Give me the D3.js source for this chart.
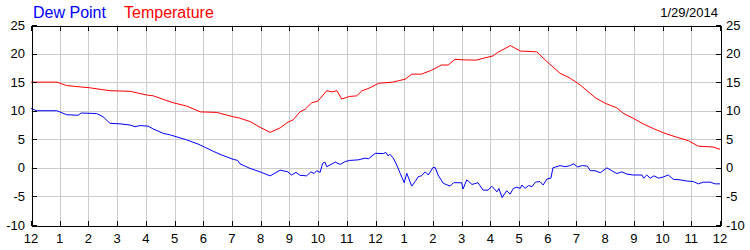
<!DOCTYPE html>
<html>
<head>
<meta charset="utf-8">
<script src="https://cdn.jsdelivr.net/npm/d3@7"></script>
<style>
  body { margin: 0; background: #fff; }
  svg { display: block; font-family: "Liberation Sans", Arial, sans-serif; }
</style>
</head>
<body>
<div id="container"></div>
<script>
let w = 750;
let h = 250;
let plotLeft = 31, plotRight = 720, plotTop = 25, plotBottom = 225;

// hour labels along the bottom (midnight to midnight)
let hourLabels = ["12", "1", "2", "3", "4", "5", "6", "7", "8", "9", "10", "11",
  "12", "1", "2", "3", "4", "5", "6", "7", "8", "9", "10", "11", "12"];
let yTicks = [-10, -5, 0, 5, 10, 15, 20, 25];

// temperature, hours since midnight / degrees
let tempHours = [0, 0.9, 1.24, 2.06, 2.75, 3.45, 4.03, 4.26, 4.6, 4.95, 5.43, 5.9, 6.47, 7.04, 7.27,
  7.63, 7.98, 8.33, 8.68, 8.95, 9.13, 9.37, 9.55, 9.78, 10.0, 10.3, 10.48, 10.66, 10.82, 11.1, 11.35,
  11.52, 11.8, 12.1, 12.6, 12.8, 13.03, 13.26, 13.6, 13.96, 14.3, 14.53, 14.77, 15.05, 15.5, 15.75,
  16.1, 16.24, 16.7, 17.04, 17.62, 17.97, 18.43, 18.78, 19.13, 19.65, 20.0, 20.41, 20.63, 20.98,
  21.32, 21.67, 22.02, 22.44, 22.9, 23.24, 23.76, 24];
let tempValues = [15.0, 15.0, 14.4, 14.0, 13.5, 13.4, 12.75, 12.6, 12.0, 11.4, 10.8, 9.8, 9.7, 8.95, 8.7,
  8.1, 7.1, 6.2, 7.0, 8.0, 8.4, 9.8, 10.25, 11.4, 11.7, 13.5, 13.3, 13.5, 12.05, 12.5, 12.6,
  13.45, 14.0, 14.8, 15.0, 15.25, 15.5, 16.4, 16.4, 17.1, 18.0, 18.0, 19.0, 18.9, 18.85, 19.17,
  19.6, 20.15, 21.4, 20.45, 20.3, 18.6, 16.55, 15.7, 14.5, 12.3, 11.3, 10.5, 9.55, 8.67,
  7.7, 6.9, 6.15, 5.45, 4.75, 3.8, 3.65, 3.25];

// dew point, hours since midnight / degrees
let dewHours = [0, 0.2, 0.9, 1.24, 1.64, 1.75, 2.29, 2.51, 2.75, 3.1, 3.45, 3.62, 3.8, 4.08, 4.26, 4.6,
  4.86, 5.42, 5.85, 6.35, 6.62, 7.04, 7.2, 7.28, 7.63, 7.98, 8.33, 8.68, 8.95, 9.07, 9.23, 9.37, 9.6,
  9.75, 9.86, 9.95, 10.07, 10.16, 10.24, 10.3, 10.6, 10.77, 10.94, 11.1, 11.4, 11.64, 11.76, 11.99,
  12.27, 12.36, 12.44, 12.5, 12.62, 12.74, 12.86, 13.0, 13.09, 13.26, 13.38, 13.49, 13.6, 13.73,
  13.84, 14.0, 14.08, 14.18, 14.36, 14.6, 14.72, 15.0, 15.05, 15.18, 15.36, 15.57, 15.75, 15.92,
  16.05, 16.23, 16.3, 16.41, 16.57, 16.69, 16.8, 16.92, 17.04, 17.1, 17.21, 17.33, 17.45, 17.57,
  17.73, 17.84, 17.97, 18.11, 18.18, 18.43, 18.6, 18.75, 18.9, 19.04, 19.2, 19.38, 19.48, 19.65,
  19.83, 20.06, 20.23, 20.41, 20.58, 20.76, 20.98, 21.28, 21.34, 21.45, 21.57, 21.7, 21.86, 22.02,
  22.2, 22.37, 22.61, 22.84, 23.07, 23.25, 23.42, 23.66, 23.83, 24];
let dewValues = [10.4, 10.0, 10.0, 9.3, 9.2, 9.6, 9.5, 8.95, 7.8, 7.7, 7.5, 7.2, 7.4, 7.3, 6.8, 6.05,
  5.75, 4.9, 4.1, 2.9, 2.3, 1.5, 1.3, 0.7, -0.1, -0.7, -1.4, -0.4, -0.7, -1.25, -0.8, -1.3, -1.4,
  -0.7, -1.0, -0.5, -0.8, 0.8, 1.0, 0.2, 1.0, 0.6, 1.1, 1.3, 1.4, 1.7, 1.6, 2.55,
  2.5, 2.7, 2.1, 2.4, 1.7, 0.5, -0.95, -2.6, -0.95, -3.2, -2.4, -1.55, -1.4, -0.7,
  -1.25, 0.05, 0.05, -1.25, -2.7, -3.2, -2.6, -2.6, -3.7, -2.1, -2.9, -2.6, -3.9, -3.9,
  -3.2, -4.2, -3.6, -5.2, -4.0, -4.6, -3.6, -3.4, -3.6, -3.0, -3.6, -3.1, -3.3, -2.5,
  -2.4, -3.0, -1.95, -1.8, 0.0, 0.4, 0.2, 0.35, 0.7, 0.15, 0.4, 0.3, -0.5, -0.5,
  -0.85, 0.0, -0.5, -1.0, -0.7, -1.1, -1.25, -1.25, -1.8, -1.25, -1.8, -1.4, -1.8, -1.6,
  -1.25, -2.0, -2.1, -2.3, -2.4, -2.8, -2.5, -2.5, -2.8, -2.8];

let x = d3.scaleLinear().domain([0, 24]).range([plotLeft, plotRight]);
let y = d3.scaleLinear().domain([-10, 25]).range([plotBottom, plotTop]);

let viz = d3.select("#container")
  .append("svg")
  .attr("width", w)
  .attr("height", h)
  .style("background-color", "white");

// grid
let hourTicks = d3.range(0, 25);
viz.append("g")
  .selectAll("line")
  .data(hourTicks.slice(1, -1))
  .enter()
  .append("line")
  .attr("x1", d => Math.round(x(d)) + 0.5).attr("x2", d => Math.round(x(d)) + 0.5)
  .attr("y1", plotTop).attr("y2", plotBottom)
  .attr("stroke", "#cccccc");
viz.append("g")
  .selectAll("line")
  .data(yTicks.slice(1, -1))
  .enter()
  .append("line")
  .attr("x1", plotLeft).attr("x2", plotRight)
  .attr("y1", d => Math.round(y(d)) + 0.5).attr("y2", d => Math.round(y(d)) + 0.5)
  .attr("stroke", "#cccccc");

// lines
let line = d3.line().x(d => x(d[0])).y(d => y(d[1]));
viz.append("path")
  .datum(dewHours.map((t, i) => [t, dewValues[i]]))
  .attr("d", line)
  .attr("fill", "none")
  .attr("stroke", "#0000ff")
  .attr("stroke-width", 1);
viz.append("path")
  .datum(tempHours.map((t, i) => [t, tempValues[i]]))
  .attr("d", line)
  .attr("fill", "none")
  .attr("stroke", "#ff0000")
  .attr("stroke-width", 1);

// axes, ticks pointing inward
let bottomAxis = viz.append("g")
  .attr("transform", `translate(0, ${plotBottom + 0.5})`)
  .call(d3.axisTop(x).tickValues(hourTicks).tickFormat("").tickSize(5).tickSizeOuter(0));
let topAxis = viz.append("g")
  .attr("transform", `translate(0, ${plotTop + 0.5})`)
  .call(d3.axisBottom(x).tickValues(hourTicks).tickFormat("").tickSize(5).tickSizeOuter(0));
let leftAxis = viz.append("g")
  .attr("transform", `translate(${plotLeft + 0.5}, 0)`)
  .call(d3.axisRight(y).tickValues(yTicks).tickFormat("").tickSize(5).tickSizeOuter(0));
let rightAxis = viz.append("g")
  .attr("transform", `translate(${plotRight + 0.5}, 0)`)
  .call(d3.axisLeft(y).tickValues(yTicks).tickFormat("").tickSize(5).tickSizeOuter(0));
viz.selectAll(".domain, .tick line").attr("stroke", "#000").attr("shape-rendering", "crispEdges");

// tick labels
viz.append("g")
  .selectAll("text")
  .data(hourTicks)
  .enter()
  .append("text")
  .attr("x", d => x(d))
  .attr("y", 243)
  .attr("text-anchor", "middle")
  .attr("font-size", "13px")
  .text((d, i) => hourLabels[i]);
viz.append("g")
  .selectAll("text")
  .data(yTicks)
  .enter()
  .append("text")
  .attr("x", plotLeft - 6)
  .attr("y", d => y(d) + 4.5)
  .attr("text-anchor", "end")
  .attr("font-size", "13px")
  .text(d => d);
viz.append("g")
  .selectAll("text")
  .data(yTicks)
  .enter()
  .append("text")
  .attr("x", plotRight + 6)
  .attr("y", d => y(d) + 4.5)
  .attr("text-anchor", "start")
  .attr("font-size", "13px")
  .text(d => d);

// legend and date
viz.append("text").attr("x", 33).attr("y", 17.5).attr("font-size", "16px")
  .attr("fill", "#0000ff").text("Dew Point");
viz.append("text").attr("x", 124).attr("y", 17.5).attr("font-size", "16px")
  .attr("fill", "#ff0000").text("Temperature");
viz.append("text").attr("x", 718).attr("y", 17).attr("font-size", "13px")
  .attr("text-anchor", "end").text("1/29/2014");
</script>
</body>
</html>
